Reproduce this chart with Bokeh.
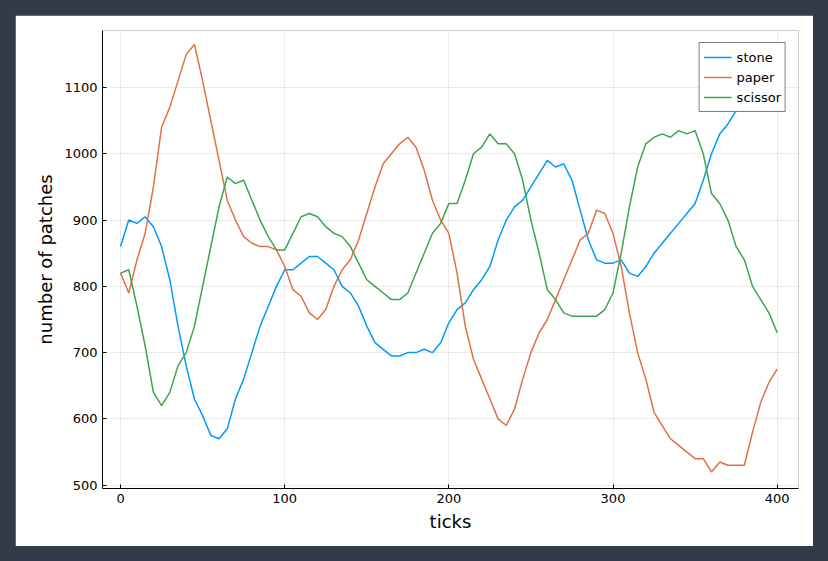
from bokeh.plotting import figure
from bokeh.models import Range1d, FixedTicker
from bokeh.embed import file_html
from bokeh.resources import INLINE

ticks = list(range(0, 401, 5))
stone = [860, 900, 895, 905, 890, 860, 810, 740, 680, 630, 605, 575, 570, 585, 630, 660,
         700, 740, 770, 800, 825, 825, 835, 845, 845, 835, 825, 800, 790, 770, 740, 715,
         705, 695, 695, 700, 700, 705, 700, 715, 745, 765, 775, 795, 810, 830, 870, 900,
         920, 930, 950, 970, 990, 980, 985, 960, 915, 870, 840, 835, 835, 840, 820, 815,
         830, 850, 865, 880, 895, 910, 925, 960, 1000, 1030, 1045, 1065, 1080, 1090, 1095,
         1090, 1095]
paper = [820, 790, 840, 880, 950, 1040, 1070, 1110, 1150, 1165, 1110, 1050, 990, 930, 900,
         875, 865, 860, 860, 855, 830, 795, 785, 760, 750, 765, 800, 825, 840, 870, 910,
         950, 985, 1000, 1015, 1025, 1010, 975, 930, 900, 880, 820, 740, 690, 660, 630, 600,
         590, 615, 660, 700, 730, 750, 780, 810, 840, 870, 880, 915, 910, 880, 830, 760,
         700, 660, 610, 590, 570, 560, 550, 540, 540, 520, 535, 530, 530, 530, 580, 625,
         655, 675]
scissor = [820, 825, 770, 710, 640, 620, 640, 680, 700, 740, 800, 860, 920, 965, 955, 960,
           930, 900, 875, 855, 855, 880, 905, 910, 905, 890, 880, 875, 860, 835, 810, 800,
           790, 780, 780, 790, 820, 850, 880, 895, 925, 925, 960, 1000, 1010, 1030, 1015,
           1015, 1000, 960, 900, 850, 795, 780, 760, 755, 755, 755, 755, 765, 790, 850, 920,
           980, 1015, 1025, 1030, 1025, 1035, 1030, 1035, 1000, 940, 925, 900, 860, 840, 800,
           780, 760, 730]

p = figure(width=798, height=531, output_backend="svg", toolbar_location=None,
           x_range=Range1d(-11, 413), y_range=Range1d(495, 1186),
           x_axis_label="ticks", y_axis_label="number of patches",
           min_border_left=87, min_border_right=15, min_border_top=15, min_border_bottom=58)
p.outline_line_color = None

p.line(ticks, stone, color="#009af9", line_width=1.5, legend_label="stone")
p.line(ticks, paper, color="#e26f46", line_width=1.5, legend_label="paper")
p.line(ticks, scissor, color="#3da44d", line_width=1.5, legend_label="scissor")

p.xaxis.ticker = FixedTicker(ticks=[0, 100, 200, 300, 400])
p.yaxis.ticker = FixedTicker(ticks=[500, 600, 700, 800, 900, 1000, 1100])
for ax in (p.xaxis, p.yaxis):
    ax.axis_label_text_font = "DejaVu Sans"
    ax.axis_label_text_font_size = "18px"
    ax.axis_label_text_font_style = "normal"
    ax.axis_label_text_color = "black"
    ax.major_label_text_font = "DejaVu Sans"
    ax.major_label_text_font_size = "13px"
    ax.major_label_text_color = "black"
    ax.minor_tick_line_color = None
    ax.major_tick_in = 4
    ax.major_tick_out = 0
    ax.axis_line_color = "black"
p.grid.grid_line_color = "#000000"
p.grid.grid_line_alpha = 0.08

p.legend.location = "top_right"
p.legend.border_line_color = "black"
p.legend.label_text_font = "DejaVu Sans"
p.legend.label_text_font_size = "13px"
p.legend.label_text_color = "black"
p.legend.spacing = -6
p.legend.padding = 4
p.legend.margin = 12
p.legend.glyph_width = 28

html = file_html(p, INLINE)
html = html.replace("</head>", "<style>html,body{background:#343b48 !important;margin:0;}"
                    "body{padding:15px;}</style></head>", 1)
open("out.html", "w").write(html)
